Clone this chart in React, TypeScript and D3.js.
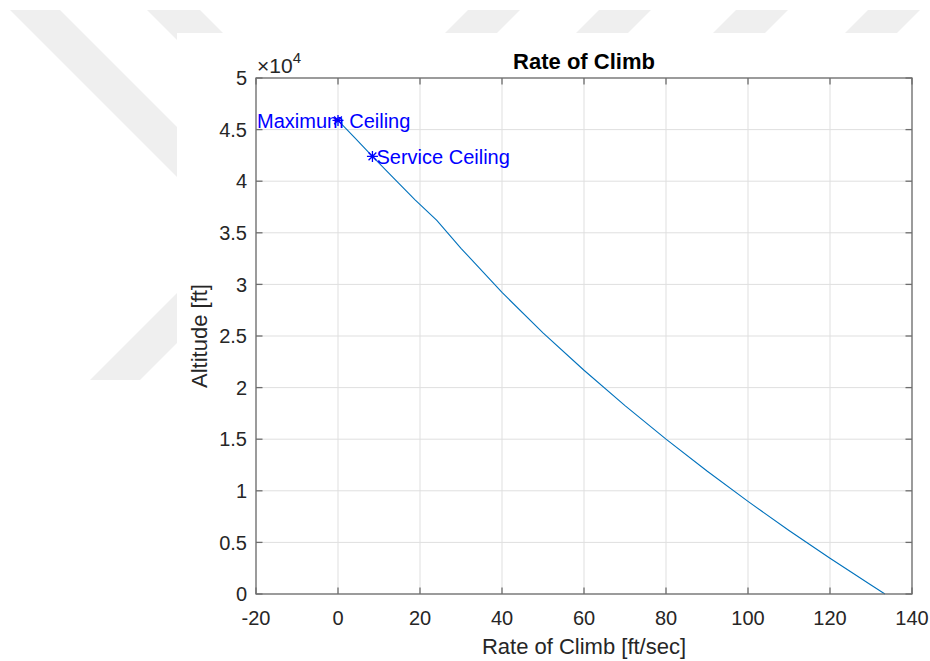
import React from 'react';
import * as d3 from 'd3';

// Climb performance: rate of climb [ft/sec] versus altitude [ft]
const rateOfClimb = [0, 4, 8.4, 13.4, 18.8, 24.1, 30, 40, 50, 60, 70, 80, 90, 100, 110, 120, 130, 133.4];
const altitude = [45890, 44250, 42400, 40360, 38200, 36200, 33500, 29220, 25300, 21680, 18260, 15010, 11920, 8970, 6150, 3460, 880, 0];

// Ceiling markers
const ceilingNames = ['Maximum Ceiling', 'Service Ceiling'];
const ceilingRate = [0, 8.4];
const ceilingAlt = [45890, 42400];

// Axis ticks
const xTicks = [-20, 0, 20, 40, 60, 80, 100, 120, 140];
const yTicks = [0, 0.5, 1, 1.5, 2, 2.5, 3, 3.5, 4, 4.5, 5];
const yExponent = 4;

// Faint background emblem behind the figure
const emblem: [number, number][][] = [
  [[10, 10], [60, 10], [260, 210], [210, 210]],
  [[147, 10], [200, 10], [250, 60], [197, 60]],
  [[90, 380], [140, 380], [310, 210], [260, 210]],
  [[468, 10], [520, 10], [485, 45], [433, 45]],
  [[599, 10], [651, 10], [616, 45], [564, 45]],
  [[736, 10], [788, 10], [753, 45], [701, 45]],
  [[868, 10], [920, 10], [885, 45], [833, 45]],
];

const W = 930;
const H = 661;
const M = { left: 256, right: 912, top: 78, bottom: 594 };
const FONT = '"Liberation Sans", Arial, Helvetica, sans-serif';
const AXIS = '#262626';

export default function App() {
  const x = d3.scaleLinear().domain([-20, 140]).range([M.left, M.right]);
  const y = d3.scaleLinear().domain([0, 50000]).range([M.bottom, M.top]);

  const line = d3
    .line<number>()
    .x((_, i) => x(rateOfClimb[i]))
    .y((d) => y(d));

  const tickLen = 6.5;
  const star = (cx: number, cy: number, r: number) => {
    const d = r * Math.SQRT1_2;
    return `M${cx - r},${cy}H${cx + r}M${cx},${cy - r}V${cy + r}` +
      `M${cx - d},${cy - d}L${cx + d},${cy + d}M${cx - d},${cy + d}L${cx + d},${cy - d}`;
  };

  return (
    <svg
      width={W}
      height={H}
      viewBox={`0 0 ${W} ${H}`}
      style={{ position: 'absolute', left: 0, top: 0, background: '#fff' }}
      fontFamily={FONT}
    >
      {emblem.map((p, i) => (
        <polygon key={i} points={p.map((q) => q.join(',')).join(' ')} fill="#efefef" />
      ))}
      <rect x={177} y={33} width={W - 177} height={H - 33} fill="#fff" />

      {/* grid */}
      <g stroke="#dfdfdf" strokeWidth={1}>
        {xTicks.map((t) => (
          <line key={'gx' + t} x1={x(t)} x2={x(t)} y1={M.top} y2={M.bottom} />
        ))}
        {yTicks.map((t) => (
          <line key={'gy' + t} x1={M.left} x2={M.right} y1={y(t * 10 ** yExponent)} y2={y(t * 10 ** yExponent)} />
        ))}
      </g>

      {/* curve */}
      <path d={line(altitude) ?? ''} fill="none" stroke="#0072BD" strokeWidth={1.1} />

      {/* box and ticks */}
      <g stroke="#6e6e6e" strokeWidth={1.3} fill="none">
        <rect x={M.left} y={M.top} width={M.right - M.left} height={M.bottom - M.top} />
        {xTicks.map((t) => (
          <g key={'tx' + t}>
            <line x1={x(t)} x2={x(t)} y1={M.bottom} y2={M.bottom - tickLen} />
            <line x1={x(t)} x2={x(t)} y1={M.top} y2={M.top + tickLen} />
          </g>
        ))}
        {yTicks.map((t) => {
          const yy = y(t * 10 ** yExponent);
          return (
            <g key={'ty' + t}>
              <line x1={M.left} x2={M.left + tickLen} y1={yy} y2={yy} />
              <line x1={M.right} x2={M.right - tickLen} y1={yy} y2={yy} />
            </g>
          );
        })}
      </g>

      {/* tick labels */}
      <g fill={AXIS} fontSize={20}>
        {xTicks.map((t) => (
          <text key={'lx' + t} x={x(t)} y={625} textAnchor="middle">
            {t}
          </text>
        ))}
        {yTicks.map((t) => (
          <text key={'ly' + t} x={M.left - 9} y={y(t * 10 ** yExponent)} dy="0.36em" textAnchor="end">
            {t}
          </text>
        ))}
        <text x={M.left + 1} y={73} fontSize={21}>
          ×10
          <tspan fontSize={15} dy={-10}>
            {yExponent}
          </tspan>
        </text>
      </g>

      {/* titles */}
      <text x={(M.left + M.right) / 2} y={69} textAnchor="middle" fontSize={22} fontWeight="bold" fill="#000">
        Rate of Climb
      </text>
      <text x={(M.left + M.right) / 2} y={654} textAnchor="middle" fontSize={22} fill={AXIS}>
        Rate of Climb [ft/sec]
      </text>
      <text
        transform={`translate(207,${(M.top + M.bottom) / 2}) rotate(-90)`}
        textAnchor="middle"
        fontSize={22}
        fill={AXIS}
      >
        Altitude [ft]
      </text>

      {/* ceiling markers */}
      {ceilingNames.map((name, i) => (
        <g key={name}>
          <path d={star(x(ceilingRate[i]), y(ceilingAlt[i]), 5.5)} stroke="#0000ff" strokeWidth={1.3} fill="none" />
          <text
            x={i === 0 ? x(-20) + 1 : x(ceilingRate[i]) + 4}
            y={y(ceilingAlt[i])}
            dy="0.36em"
            fontSize={20}
            fill="#0000ff"
          >
            {name}
          </text>
        </g>
      ))}
    </svg>
  );
}
